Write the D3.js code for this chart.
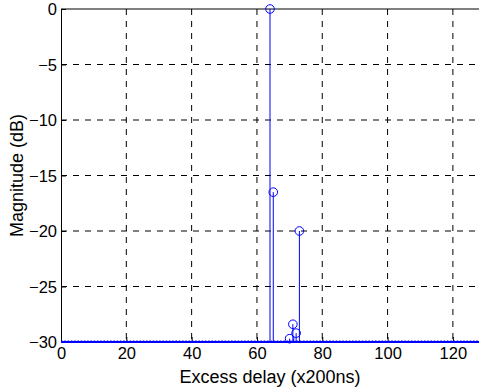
<!DOCTYPE html>
<html>
<head>
<meta charset="utf-8">
<script src="https://cdn.jsdelivr.net/npm/d3@7"></script>
<style>
  body { margin: 0; background: #fff; }
  text { font-family: Arial, "Liberation Sans", sans-serif; }
</style>
</head>
<body>
<script>
// taps above the -30 dB floor
var delays = [64, 65, 70, 71, 72, 73];
var mags = [0, -16.5, -29.7, -28.4, -29.2, -20];
var xTicks = [0, 20, 40, 60, 80, 100, 120];
var yTicks = [0, -5, -10, -15, -20, -25, -30];
var floorDb = -30;

var margin = {top: 9, right: 0, bottom: 49, left: 61};
var W = 479, H = 391;
var width = W - margin.left - margin.right,
    height = H - margin.top - margin.bottom;

var svg = d3.select("body").append("svg")
  .attr("width", W)
  .attr("height", H)
  .append("g")
  .attr("transform", "translate(" + margin.left + "," + margin.top + ")");

var x = d3.scaleLinear().domain([0, 128]).range([0, width]);
var y = d3.scaleLinear().domain([-30, 0]).range([height, 0]);

// grid
svg.selectAll(".gx").data(xTicks.slice(1)).enter().append("line")
  .attr("x1", d => x(d)).attr("x2", d => x(d))
  .attr("y1", 0).attr("y2", height)
  .style("stroke", "#000").style("stroke-dasharray", "6,6").style("stroke-width", 1);
svg.selectAll(".gy").data(yTicks.slice(1, -1)).enter().append("line")
  .attr("x1", 0).attr("x2", width)
  .attr("y1", d => y(d)).attr("y2", d => y(d))
  .style("stroke", "#000").style("stroke-dasharray", "6,6").style("stroke-width", 1);

// axes
var xAxis = d3.axisBottom(x).tickValues(xTicks).tickSizeInner(-5).tickSizeOuter(0).tickPadding(5);
var yAxis = d3.axisLeft(y).tickValues(yTicks).tickSizeInner(-5).tickSizeOuter(0).tickPadding(4);

var gx = svg.append("g")
  .attr("transform", "translate(0," + height + ")")
  .call(xAxis);
var gy = svg.append("g").call(yAxis);
[gx, gy].forEach(g => {
  g.select(".domain").style("stroke", "#000");
  g.selectAll("line").style("stroke", "#000");
  g.selectAll("text").style("font-size", "16.5px").style("fill", "#000");
});
gy.selectAll("text").attr("dy", "0.35em");

// top border
svg.append("line")
  .attr("x1", 0).attr("x2", width).attr("y1", 0).attr("y2", 0)
  .style("stroke", "#000");

// floor line
svg.append("line")
  .attr("x1", 0).attr("x2", width)
  .attr("y1", y(floorDb)).attr("y2", y(floorDb))
  .style("stroke", "#0000ff").style("stroke-width", 2);
svg.append("line")
  .attr("x1", 0).attr("x2", width)
  .attr("y1", y(floorDb) - 1).attr("y2", y(floorDb) - 1)
  .style("stroke", "#0000ff").style("stroke-width", 1)
  .style("stroke-dasharray", "1.6,1.67");

// stems
var taps = delays.map((d, i) => ({d: d, m: mags[i]}));
svg.selectAll(".stem").data(taps).enter().append("line")
  .attr("x1", d => x(d.d)).attr("x2", d => x(d.d))
  .attr("y1", y(floorDb)).attr("y2", d => y(d.m))
  .style("stroke", "#0000ff").style("stroke-width", 1);
svg.selectAll(".mk").data(taps).enter().append("circle")
  .attr("cx", d => x(d.d)).attr("cy", d => y(d.m)).attr("r", 4.3)
  .style("fill", "none").style("stroke", "#0000ff").style("stroke-width", 1);

// labels
svg.append("text")
  .attr("x", width / 2).attr("y", height + 41)
  .attr("text-anchor", "middle")
  .style("font-size", "18px")
  .text("Excess delay (x200ns)");
svg.append("text")
  .attr("transform", "translate(" + (-38) + "," + (height / 2) + ") rotate(-90)")
  .attr("text-anchor", "middle")
  .style("font-size", "18px")
  .text("Magnitude (dB)");
</script>
</body>
</html>
